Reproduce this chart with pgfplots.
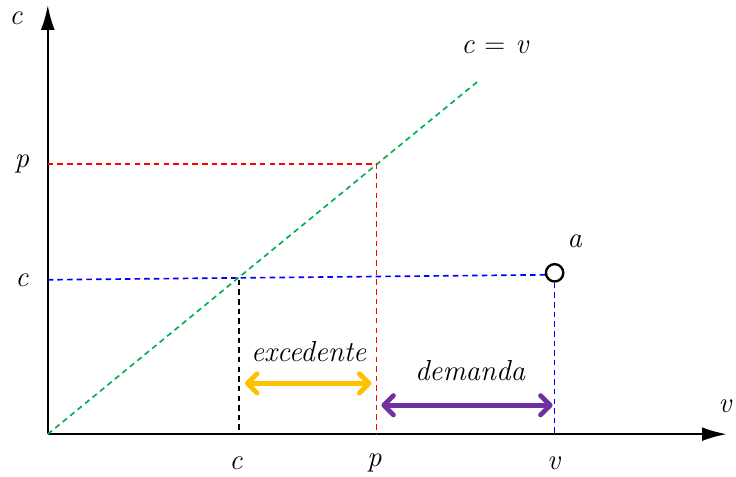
\documentclass[border=0pt]{standalone}
\usepackage{fontspec}
\usepackage{pgfplots}
\pgfplotsset{compat=1.18}
\usetikzlibrary{arrows.meta}
\definecolor{ggreen}{HTML}{00B050}
\definecolor{gold}{HTML}{FFC000}
\definecolor{purp}{HTML}{7030A0}
\newcommand{\bigf}{\fontsize{21}{25}\selectfont\itshape}
\begin{document}
\begin{tikzpicture}
\begin{axis}[
  scale only axis, width=7.36in, height=4.73in,
  xmin=-48, xmax=688, ymin=-37, ymax=436,
  hide axis, clip=false,
]
\addplot[draw=none] coordinates {(-48,-37) (688,436)};
% axes
\addplot[line width=1.6pt, -{Latex[length=18pt,width=10pt]}] coordinates {(0,0) (682,0)};
\addplot[line width=1.6pt, -{Latex[length=18pt,width=10pt]}] coordinates {(0,0) (0,431)};
% c = v line
\addplot[ggreen, line width=1.2pt, dash pattern=on 4pt off 3pt] coordinates {(0,0) (434,356)};
% red
\addplot[red, line width=1.2pt, dash pattern=on 4pt off 3pt] coordinates {(0,271) (330,271) (330,0)};
% blue
\addplot[blue, line width=1.2pt, dash pattern=on 4pt off 3pt] coordinates {(0,155) (500,160)};
\addplot[blue, line width=1.2pt, dash pattern=on 4pt off 3pt] coordinates {(509,152) (509,0)};
% black
\addplot[black, line width=1.2pt, dash pattern=on 4pt off 3pt] coordinates {(192,155) (192,0)};
% point a
\addplot[only marks, mark=*, mark size=6.3pt, mark options={fill=white, draw=black, line width=1.7pt}] coordinates {(509,162)};
% double arrows
\addplot[gold, line width=3.5pt, {Straight Barb[round,length=7pt,width=14pt]}-{Straight Barb[round,length=7pt,width=14pt]}] coordinates {(198,51) (325,51)};
\addplot[purp, line width=3.5pt, {Straight Barb[round,length=7pt,width=14pt]}-{Straight Barb[round,length=7pt,width=14pt]}] coordinates {(335,29) (507,29)};
% labels
\node[font=\bigf] at (axis cs:262,83) {excedente};
\node[font=\bigf] at (axis cs:424,64) {demanda};
\node[font=\bigf] at (axis cs:529,194) {a};
\node[font=\bigf] at (axis cs:449,389) {c {\upshape =} v};
\node[font=\bigf] at (axis cs:-32,418) {c};
\node[font=\bigf] at (axis cs:680,28) {v};
\node[font=\bigf] at (axis cs:189,-29) {c};
\node[font=\bigf] at (axis cs:328,-29) {p};
\node[font=\bigf] at (axis cs:508,-29) {v};
\node[font=\bigf] at (axis cs:-26,271) {p};
\node[font=\bigf] at (axis cs:-26,155) {c};
\end{axis}
\end{tikzpicture}
\end{document}
